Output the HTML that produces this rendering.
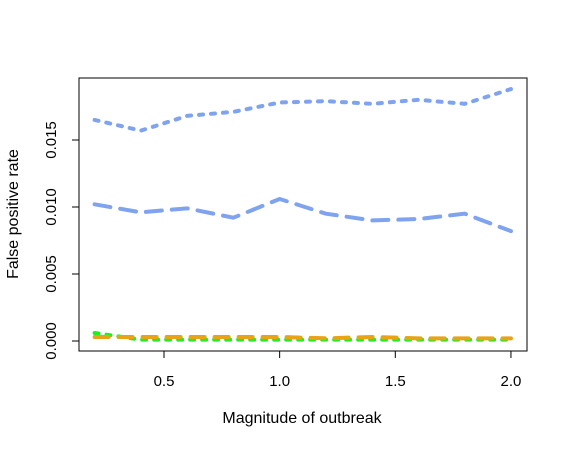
<!DOCTYPE html>
<html><head><meta charset="utf-8"><style>
body{margin:0;background:#fff}
text{font-family:"Liberation Sans",sans-serif;font-size:15px;fill:#000}
text.title{font-size:16px}
</style></head><body>
<svg width="567" height="449">
<rect x="79" y="78" width="448" height="273" fill="none" stroke="#000"/>
<g id="axes"></g>
<g id="series"></g>
<text class="title" x="302" y="423" text-anchor="middle">Magnitude of outbreak</text>
<text class="title" transform="translate(18,214) rotate(-90)" text-anchor="middle">False positive rate</text>
</svg>
<script>
const xs=[0.2,0.4,0.6,0.8,1.0,1.2,1.4,1.6,1.8,2.0];
const blueDotted=[0.0165,0.0157,0.0168,0.0171,0.0178,0.0179,0.0177,0.0180,0.0177,0.0188];
const blueDashed=[0.0102,0.0096,0.0099,0.0092,0.0106,0.0095,0.0090,0.0091,0.0095,0.0082];
const greenDotted=[0.0006,0.0001,0.0001,0.0001,0.0001,0.0001,0.0001,0.0001,0.0001,0.0001];
const orangeDashed=[0.0003,0.0003,0.0003,0.0003,0.0003,0.0002,0.0003,0.0002,0.0002,0.0002];
const xTicks=[0.5,1.0,1.5,2.0];
const xTickLabels=["0.5","1.0","1.5","2.0"];
const yTicks=[0,0.005,0.01,0.015];
const yTickLabels=["0.000","0.005","0.010","0.015"];
const X=v=>164+(v-0.5)*231.3;
const Y=v=>341-v*13400;
const NS="http://www.w3.org/2000/svg";
const ax=document.getElementById('axes');
function mk(tag,attrs,parent){const e=document.createElementNS(NS,tag);for(const k in attrs)e.setAttribute(k,attrs[k]);parent.appendChild(e);return e;}
mk('line',{x1:X(0.5),x2:X(2.0),y1:351,y2:351,stroke:'#000'},ax);
xTicks.forEach((t,i)=>{
 const l=mk('line',{x1:X(t),x2:X(t),y1:351,y2:358,stroke:'#000'},ax);
 
 
 const tx=mk('text',{x:X(t),y:386,'text-anchor':'middle'},ax);tx.textContent=xTickLabels[i];
 
 
});
mk('line',{x1:79,x2:79,y1:Y(0),y2:Y(0.015),stroke:'#000'},ax);
yTicks.forEach((t,i)=>{
 const l=mk('line',{x1:72,x2:79,y1:Y(t),y2:Y(t),stroke:'#000'},ax);
 
 
 const tx=mk('text',{transform:`translate(56,${Y(t)}) rotate(-90)`,'text-anchor':'middle'},ax);tx.textContent=yTickLabels[i];
 
 
});
const sg=document.getElementById('series');
function line(vals,color,dash,name){
 const p=mk('polyline',{points:xs.map((x,i)=>X(x)+','+Y(vals[i])).join(' '),fill:'none',stroke:color,'stroke-width':4,'stroke-dasharray':dash,'stroke-linecap':'round'},sg);
 
 
}
line(blueDotted,'#7fa3ee','4 8','series-blue-dotted');
line(blueDashed,'#7fa3ee','16 10','series-blue-dashed');
line(greenDotted,'#22ee22','4 8','series-green-dotted');
line(orangeDashed,'#e8a317','14 10','series-orange-dashed');
</script>
</body></html>
